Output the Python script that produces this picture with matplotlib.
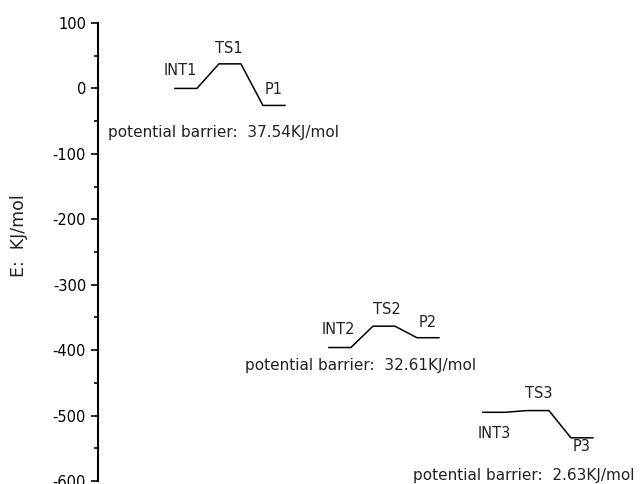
import matplotlib
matplotlib.use('Agg')
import matplotlib.pyplot as plt

# energy levels (KJ/mol) for the three reaction steps
names = [['INT1', 'TS1', 'P1'], ['INT2', 'TS2', 'P2'], ['INT3', 'TS3', 'P3']]
energies = [[0.0, 37.54, -26.0], [-396.0, -363.39, -381.0], [-495.0, -492.37, -534.0]]
starts = [0, 7, 14]  # x slot of the first level in each step

# label offsets (dx, dy) relative to each level centre
label_offsets = [[(-0.25, 28), (-0.05, 24), (0.0, 24)],
                 [(-0.05, 27), (0.15, 26), (0.0, 24)],
                 [(0.0, -32), (0.05, 26), (0.0, -14)]]
barrier_offsets = [(-3.05, -68), (-3.82, -27), (-3.2, -96)]

plt.rcParams['font.family'] = ['DejaVu Sans']
plt.rcParams['axes.unicode_minus'] = False
fs = 10.5
fig = plt.figure(figsize=(6.4, 4.84), dpi=100)
ax = fig.add_axes([0.153, 0.0062, 0.825, 0.9463])

for g in range(3):
    xs, ys = [], []
    for i, e in enumerate(energies[g]):
        x0 = starts[g] + 2 * i
        xs += [x0, x0 + 1]
        ys += [e, e]
        dx, dy = label_offsets[g][i]
        ax.text(x0 + 0.5 + dx, e + dy, names[g][i], ha='center', va='center',
                fontsize=fs, color='#222222')
    ax.plot(xs, ys, color='black', lw=1.1)
    barrier = energies[g][1] - energies[g][0]
    bx, by = barrier_offsets[g]
    ax.text(starts[g] + bx, energies[g][0] + by,
            'potential barrier:  %.2fKJ/mol' % barrier,
            ha='left', va='center', fontsize=11, color='#222222')

ax.set_xlim(-3.5, 20.5)
ax.set_ylim(-600, 100)
ax.set_yticks(range(-600, 101, 100))
ax.set_yticks(range(-550, 100, 100), minor=True)
ax.tick_params(axis='y', which='major', length=5, width=1.2, labelsize=fs)
ax.tick_params(axis='y', which='minor', length=3, width=1.2)
ax.set_xticks([])
for s in ['top', 'right', 'bottom']:
    ax.spines[s].set_visible(False)
ax.spines['left'].set_linewidth(1.5)
ax.set_ylabel('E:  KJ/mol', fontsize=12.5, color='#222222')
ax.yaxis.set_label_coords(-0.132, 0.535)
ax.patch.set_alpha(0)

fig.savefig('out.png', dpi=100)
